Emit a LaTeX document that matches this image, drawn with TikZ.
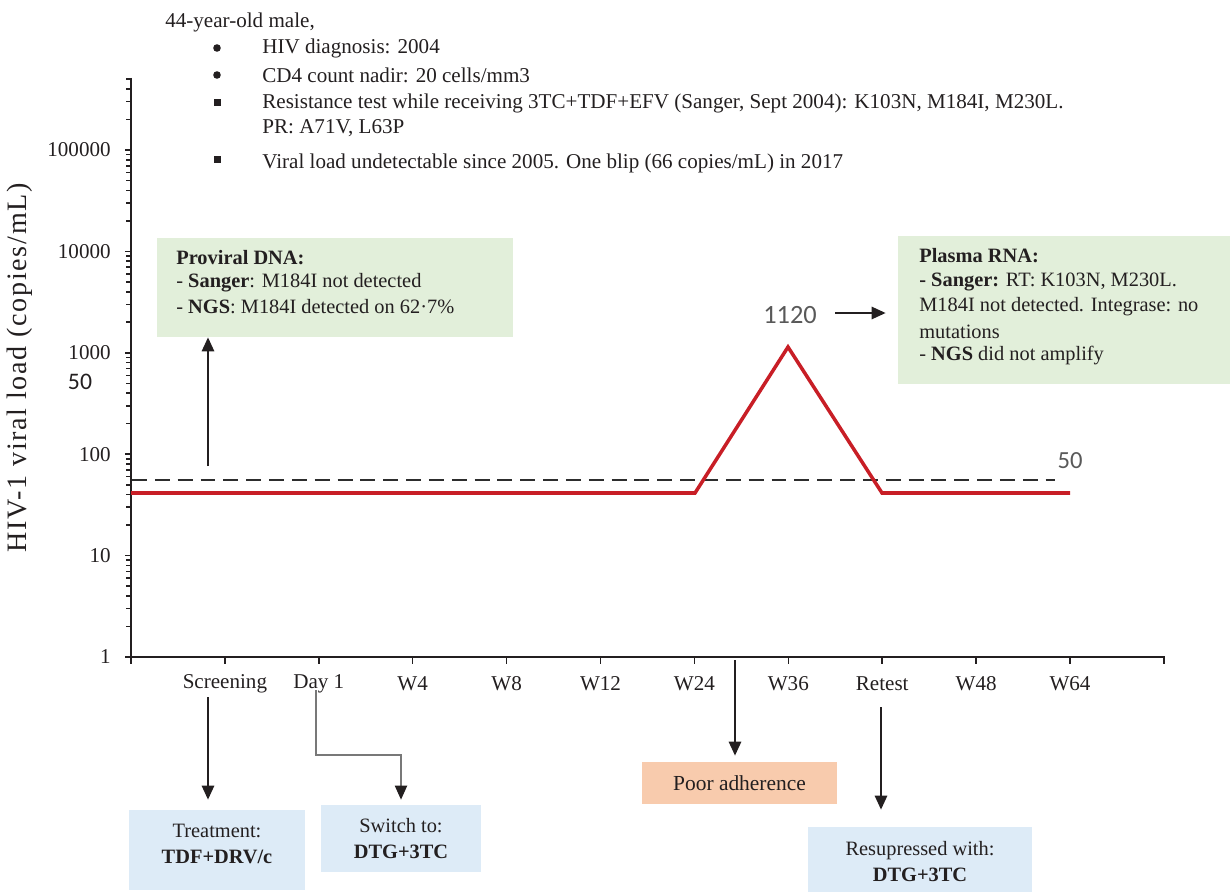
\documentclass[tikz,border=0pt]{standalone}
\usepackage{fontspec}
\setmainfont{Liberation Serif}
\newfontfamily\calfont{Carlito}
\newfontfamily\titlefont[LetterSpace=6]{Liberation Serif}
\usetikzlibrary{arrows.meta}
\definecolor{txt}{RGB}{35,31,32}
\definecolor{boxgreen}{RGB}{226,239,218}
\definecolor{boxblue}{RGB}{221,235,247}
\definecolor{boxorange}{RGB}{248,203,173}
\definecolor{vlred}{RGB}{200,30,38}
\definecolor{lblgray}{RGB}{89,89,89}
\definecolor{dashgray}{RGB}{45,45,45}
\definecolor{elbowgray}{RGB}{120,120,120}
\tikzset{
  body/.style={text=txt,font=\fontsize{11.6}{14}\selectfont,inner sep=0pt},
  head/.style={text=txt,font=\fontsize{12}{14}\selectfont,inner sep=0pt},
  ticklbl/.style={text=txt,font=\fontsize{12}{14}\selectfont,inner sep=0pt},
  axisline/.style={line width=1.4pt,draw=txt},
  tickline/.style={line width=0.9pt,draw=txt},
  actbox/.style={body,align=center,inner sep=0pt},
  greenbox/.style={fill=boxgreen,inner sep=0pt},
  blackarrow/.style={line width=1.2pt,draw=txt,-{Triangle[length=8pt,width=7pt]}},
  grayarrow/.style={line width=0.7pt,draw=elbowgray,-{Triangle[length=8pt,width=7pt,color=txt]}},
  vlline/.style={line width=2pt,draw=vlred,line join=miter},
  thresh/.style={line width=1.3pt,draw=dashgray,dash pattern=on 8.5pt off 4.5pt},
  sanslbl/.style={text=lblgray,font=\calfont\fontsize{14}{16}\selectfont,inner sep=0pt}
}
\begin{document}
\begin{tikzpicture}[x=0.02cm,y=-0.02cm]
\useasboundingbox (0,0) rectangle (1230,892);

% ---------- header ----------
\node[head,anchor=west] (hdr) at (165,22) {44-year-old male,};
\fill[txt] (217,48) circle (3.8);
\fill[txt] (217,75) circle (3.8);
\fill[txt] (213.5,99.5) rectangle (220.5,106.5);
\fill[txt] (213.5,155.5) rectangle (220.5,162.5);
\node[head,anchor=west] (h1) at (262,48) {HIV diagnosis: 2004};
\node[head,anchor=west] (h2) at (262,75) {CD4 count nadir: 20 cells/mm3};
\node[head,anchor=west] (h3) at (262,103) {Resistance test while receiving 3TC+TDF+EFV (Sanger, Sept 2004): K103N, M184I, M230L.};
\node[head,anchor=west] (h4) at (262,128) {PR: A71V, L63P};
\node[head,anchor=west] (h5) at (262,163) {Viral load undetectable since 2005. One blip (66 copies/mL) in 2017};

% ---------- axes ----------
\draw[axisline] (131,78) -- (131,658);
\draw[axisline] (130,657) -- (1165,657);
\foreach \d/\lab in {0/1,1/10,2/100,3/1000,4/10000,5/100000}{
  \pgfmathsetmacro\yy{657-101.4*\d}
  \draw[tickline] (125,\yy) -- (131,\yy);
  \node[ticklbl,anchor=east] (yl\d) at (111,\yy) {\lab};
}
\foreach \d in {0,...,4}{
  \foreach \m in {2,...,9}{
    \pgfmathsetmacro\yy{657-101.4*(\d+log10(\m))}
    \draw[tickline] (126,\yy) -- (131,\yy);
  }
}
\foreach \m in {2,...,5}{
  \pgfmathsetmacro\yy{657-101.4*(5+log10(\m))}
  \draw[tickline] (126,\yy) -- (131,\yy);
}
\foreach \i in {0,...,11}{
  \pgfmathsetmacro\xx{131+93.9*\i}
  \draw[tickline] (\xx,657) -- (\xx,664);
}
\foreach \i/\lab/\nm in {1/Screening/xs,2/Day 1/xd,3/W4/xw4,4/W8/xw8,5/W12/xw12,6/W24/xw24,7/W36/xw36,8/Retest/xr,9/W48/xw48,10/W64/xw64}{
  \pgfmathsetmacro\xx{131+93.9*\i}
  \node[ticklbl] (\nm) at (\xx,684) {\lab};
}
\node[text=txt,font=\titlefont\fontsize{16}{18}\selectfont,rotate=90,inner sep=0pt] (ytitle) at (20,368) {HIV-1 viral load (copies/mL)};
\node[text=txt,font=\calfont\fontsize{13.5}{15}\selectfont,inner sep=0pt] (y50) at (80,382) {50};

% ---------- threshold and viral load ----------
\coordinate (t0) at (132,480);
\coordinate (t1) at (1055,480);
\draw[thresh] (t0) -- (t1);
\node[sanslbl] (lbl50) at (1070,461) {50};

\coordinate (v0) at (131,493);
\coordinate (v1) at (695,493);
\coordinate (v2) at (788,347);
\coordinate (v3) at (882,493);
\coordinate (v4) at (1070,493);
\draw[vlline] (v0) -- (v1) -- (v2) -- (v3) -- (v4);
\node[sanslbl,font=\calfont\fontsize{15}{17}\selectfont] (lbl1120) at (790,315) {1120};

% ---------- info boxes ----------
\node[greenbox,minimum width=356*0.02cm,minimum height=99*0.02cm] (prov) at (335,287.5) {};
\node[body,anchor=west] (p1) at (176,258) {\textbf{Proviral DNA:}};
\node[body,anchor=west] (p2) at (176,283) {- \textbf{Sanger}: M184I not detected};
\node[body,anchor=west] (p3) at (176,307) {- \textbf{NGS}: M184I detected on 62·7\%};
\coordinate (provstart) at (208,466);
\draw[blackarrow] (provstart) -- (provstart |- prov.south);

\node[greenbox,minimum width=332*0.02cm,minimum height=148*0.02cm] (plasma) at (1064,310) {};
\node[body,anchor=west] (r1) at (919,256) {\textbf{Plasma RNA:}};
\node[body,anchor=west] (r2) at (919,282) {\textbf{- Sanger:} RT: K103N, M230L.};
\node[body,anchor=west] (r3) at (919,307) {M184I not detected. Integrase: no};
\node[body,anchor=west] (r4) at (919,332) {mutations};
\node[body,anchor=west] (r5) at (919,356) {- \textbf{NGS} did not amplify};
\coordinate (a1120s) at (835,313);
\draw[blackarrow] (a1120s) -- ([xshift=-12*0.02cm]a1120s -| plasma.west);

% ---------- bottom boxes ----------
\node[actbox,fill=boxblue,minimum width=176*0.02cm,minimum height=80*0.02cm] (treat) at (217,850) {};
\node[actbox] (treatt) at (217,844) {Treatment:\\[1pt]\textbf{TDF+DRV/c}};
\node[actbox,fill=boxblue,minimum width=160*0.02cm,minimum height=67*0.02cm] (switch) at (401,838.5) {};
\node[actbox] (switcht) at (401,838.5) {Switch to:\\[1pt]\textbf{DTG+3TC}};
\node[actbox,fill=boxorange,minimum width=195*0.02cm,minimum height=42*0.02cm,font=\fontsize{12.2}{14}\selectfont] (poor) at (739.5,783) {Poor adherence};
\node[actbox,fill=boxblue,minimum width=224*0.02cm,minimum height=65*0.02cm] (resup) at (920,859.5) {};
\node[actbox] (resupt) at (920,861.5) {Resupressed with:\\[1pt]\textbf{DTG+3TC}};

% ---------- connectors ----------
\coordinate (sA) at (208,697);
\draw[blackarrow,shorten >=10*0.02cm] (sA) -- (sA |- treat.north);
\coordinate (dA) at (316,690);
\coordinate (dB) at (316,755);
\draw[grayarrow,shorten >=5*0.02cm] (dA) -- (dB) -- (dB -| switch.north) -- (switch.north);
\coordinate (wA) at (735,660);
\draw[blackarrow,shorten >=6*0.02cm] (wA) -- (wA |- poor.north);
\coordinate (rA) at (881,707);
\draw[blackarrow,shorten >=17*0.02cm] (rA) -- (rA |- resup.north);
\end{tikzpicture}
\end{document}
